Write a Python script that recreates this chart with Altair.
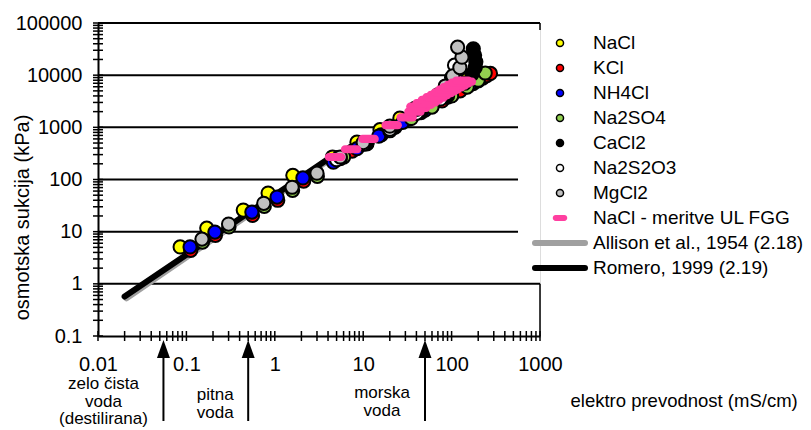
import altair as alt
import pandas as pd

FONT = "Liberation Sans"

# ---------------- data ----------------
salt_names = ["NaCl", "KCl", "NH4Cl", "Na2SO4", "CaCl2", "Na2S2O3", "MgCl2"]
salt_colors = ["#FFFF00", "#FF0000", "#0000FF", "#92D050", "#000000", "#FFFFFF", "#C0C0C0"]

nacl_x = [0.085, 0.17, 0.44, 0.84, 1.6, 4.5, 8.5, 15.5, 26, 38.5, 60, 95, 153]
nacl_y = [5.1, 11.7, 26, 55, 120, 270, 520, 900, 1500, 2300, 3400, 5200, 8500]

kcl_x = [0.112, 0.213, 0.56, 1.08, 2.12, 5, 7.5, 11, 16, 23, 33, 45, 60, 78, 100, 125, 150, 175, 200, 225, 250, 275]
kcl_y = [4.4, 8.5, 20.5, 40, 93, 243, 350, 505, 720, 1010, 1435, 1910, 2520, 3200, 4050, 5000, 6000, 6900, 7800, 8800, 9750, 10800]

nh4cl_x = [0.11, 0.21, 0.55, 1.06, 2.08, 4.6, 8.5, 15, 28, 50, 90, 160]
nh4cl_y = [5.1, 9.8, 23.7, 46, 107, 215, 390, 680, 1250, 2150, 3800, 6500]

na2so4_x = [0.152, 0.303, 0.76, 1.59, 3.03, 6, 11, 20, 35, 60, 100, 150, 200, 240]
na2so4_y = [6.3, 12.3, 30.5, 62, 115, 270, 480, 860, 1480, 2450, 4000, 5900, 8000, 11000]

cacl2_x = [5.5, 11, 22, 45, 90, 140, 170, 185, 188, 182, 176]
cacl2_y = [250, 500, 1000, 2000, 4000, 7000, 10500, 14000, 18000, 24000, 32000]

na2s2o3_x = [5, 10, 20, 40, 75, 100, 108]
na2s2o3_y = [240, 470, 920, 1850, 3500, 9000, 15500]

mgcl2_x = [0.15, 0.30, 0.75, 1.57, 3.0, 5.5, 10, 20, 40, 70, 85, 103, 124, 131, 117]
mgcl2_y = [7.2, 14, 35, 71, 132, 270, 510, 1050, 2200, 4200, 6200, 9700, 14000, 22100, 34500]

pink_name = "NaCl - meritve UL FGG"
pink_x = [4.8, 7.3, 11.5, 21, 31, 38, 44, 50, 56, 62, 69, 76, 84, 92, 100, 110, 120, 132, 145,
          40, 47, 54, 61, 68, 76, 85, 95, 106, 118, 132]
pink_y = [270, 380, 600, 1100, 1550, 2000, 2350, 2700, 3000, 3350, 3700, 4100, 4500, 4900, 5300, 5800, 6300, 6900, 7500,
          2500, 2900, 3350, 3800, 4200, 4700, 5300, 5900, 6500, 7200, 7900]

allison_name = "Allison et al., 1954 (2.18)"
allison_x = [0.021, 5.2]
allison_y = [0.53, 310]

romero_name = "Romero, 1999 (2.19)"
romero_x = [0.02, 5]
romero_y = [0.57, 320]

x_tick_labels = [0.01, 0.1, 1, 10, 100, 1000]
y_tick_labels = [0.1, 1, 10, 100, 1000, 10000, 100000]
minor_mult = [1, 2, 3, 4, 5, 6, 7, 8, 9]

grid_y = [1, 10, 100, 1000, 10000, 100000]
grid_x_end = [1000, 564, 564, 564, 564, 1000]

border_y0 = [0.1, 73500]
border_y1 = [1, 100000]

arrow_x = [0.055, 0.5, 50]
arrow_labels = ["zelo čista\nvoda\n(destilirana)", "pitna\nvoda", "morska\nvoda"]

x_title = "elektro prevodnost (mS/cm)"
y_title = "osmotska sukcija (kPa)"

# ---------------- tables ----------------
salt_xs = [nacl_x, kcl_x, nh4cl_x, na2so4_x, cacl2_x, na2s2o3_x, mgcl2_x]
salt_ys = [nacl_y, kcl_y, nh4cl_y, na2so4_y, cacl2_y, na2s2o3_y, mgcl2_y]
rows = []
for name, xs_, ys_ in zip(salt_names, salt_xs, salt_ys):
    for a, b in zip(xs_, ys_):
        rows.append({"salt": name, "x": a, "y": b})
pts = pd.DataFrame(rows)
pink_df = pd.DataFrame({"x": pink_x, "y": pink_y})
allison_df = pd.DataFrame({"x": allison_x, "y": allison_y})
romero_df = pd.DataFrame({"x": romero_x, "y": romero_y})
grid_df = pd.DataFrame({"y": grid_y, "x0": [x_tick_labels[0]] * len(grid_y), "x1": grid_x_end})
border_df = pd.DataFrame({"x": [x_tick_labels[-1]] * 2, "y0": border_y0, "y1": border_y1})
ytick_vals = [round(d * m, 6) for d in y_tick_labels[:-1] for m in minor_mult] + [y_tick_labels[-1]]
xtick_vals = [round(d * m, 6) for d in x_tick_labels[:-1] for m in minor_mult] + [x_tick_labels[-1]]
ytick_df = pd.DataFrame({"v": ytick_vals})
xtick_df = pd.DataFrame({"v": xtick_vals})
arrow_df = pd.DataFrame({"x": arrow_x, "t": arrow_labels})

legend_names = salt_names + [pink_name, allison_name, romero_name]
legend_df = pd.DataFrame({"name": legend_names})

# ---------------- scales / axes ----------------
W, H = 442, 313
xs = alt.Scale(type="log", domain=[0.01, 1000], nice=False)
ys = alt.Scale(type="log", domain=[0.1, 100000], nice=False)

x_axis = alt.Axis(values=x_tick_labels, format="~g", ticks=False, tickSize=0, grid=False,
                  labelPadding=18, labelFontSize=20, labelFont=FONT, labelColor="black",
                  labelOverlap=False, labelFlush=False,
                  domainColor="black", domainWidth=2,
                  title=x_title, titleX=472, titleY=64, titleAlign="left", titleBaseline="middle",
                  titleFont=FONT, titleFontSize=18.5, titleFontWeight="normal", titleColor="black")
y_axis = alt.Axis(values=y_tick_labels, format="~g", ticks=False, tickSize=0, grid=False,
                  labelPadding=16, labelFontSize=20, labelFont=FONT, labelColor="black",
                  labelOverlap=False, labelFlush=False,
                  domainColor="black", domainWidth=2,
                  title=y_title, titleX=-76, titleY=194, titleAngle=270, titleAlign="center",
                  titleBaseline="middle",
                  titleFont=FONT, titleFontSize=20, titleFontWeight="normal", titleColor="black")


def X(f):
    return alt.X(f, type="quantitative", scale=xs, axis=x_axis)


def Y(f):
    return alt.Y(f, type="quantitative", scale=ys, axis=y_axis)


fill_scale = alt.Scale(domain=salt_names, range=salt_colors)
dash_path = "M-0.6,-0.4L0.6,-0.4A0.4,0.4 0 0 1 0.6,0.4L-0.6,0.4A0.4,0.4 0 0 1 -0.6,-0.4Z"
tri_path = "M0,-1L0.72,1L-0.72,1Z"

# ---------------- main layers ----------------
grid = alt.Chart(grid_df).mark_rule(color="black", strokeWidth=2).encode(
    x=X("x0"), x2="x1:Q", y=Y("y"))

border = alt.Chart(border_df).mark_rule(color="black", strokeWidth=1.5).encode(
    x=X("x"), y=Y("y0"), y2="y1:Q")

yticks = alt.Chart(ytick_df).mark_rule(color="black", strokeWidth=1.5).encode(
    y=Y("v"), x=alt.value(-5), x2=alt.value(5))
xticks = alt.Chart(xtick_df).mark_rule(color="black", strokeWidth=1.5).encode(
    x=X("v"), y=alt.value(H - 5), y2=alt.value(H + 5))

allison = alt.Chart(allison_df).mark_line(color="#A0A0A0", strokeWidth=6, strokeCap="round").encode(
    x=X("x"), y=Y("y"))
romero = alt.Chart(romero_df).mark_line(color="black", strokeWidth=6, strokeCap="round").encode(
    x=X("x"), y=Y("y"))

points = alt.Chart(pts).mark_circle(size=175, stroke="black", strokeWidth=2, opacity=1).encode(
    x=X("x"), y=Y("y"),
    fill=alt.Fill("salt:N", scale=fill_scale, legend=None))

pink = alt.Chart(pink_df).mark_point(shape=dash_path, filled=True, color="#FF3FA0", size=420,
                                     opacity=1, strokeWidth=0).encode(x=X("x"), y=Y("y"))

arrow_rule = alt.Chart(arrow_df).mark_rule(color="black", strokeWidth=2).encode(
    x=X("x"), y=alt.value(330), y2=alt.value(398))
arrow_head = alt.Chart(arrow_df).mark_point(shape=tri_path, filled=True, color="black", size=324,
                                            opacity=1).encode(x=X("x"), y=alt.value(326))

text_dx = [-60, -33, -43]
text_top = [353, 364, 362]
texts = []
for i in range(len(arrow_x)):
    texts.append(
        alt.Chart(arrow_df.iloc[[i]]).mark_text(
            align="center", baseline="top", fontSize=17, lineHeight=17.5, lineBreak="\n",
            dx=text_dx[i], font=FONT, color="black").encode(
            x=X("x"), y=alt.value(text_top[i]), text="t:N"))

main = alt.layer(grid, border, yticks, xticks, allison, romero, points, pink,
                 arrow_rule, arrow_head, *texts)

# ---------------- legend ----------------
ly = alt.Y("name:N", scale=alt.Scale(type="point", domain=legend_names, range=[20, 245], padding=0),
           axis=None)
leg_salts = alt.Chart(legend_df[legend_df["name"].isin(salt_names)]).mark_circle(
    size=50, stroke="black", strokeWidth=1.5, opacity=1).encode(
    x=alt.value(462), y=ly, fill=alt.Fill("name:N", scale=fill_scale, legend=None))
leg_pink = alt.Chart(legend_df[legend_df["name"] == pink_name]).mark_point(
    shape=dash_path, filled=True, color="#FF3FA0", size=210, opacity=1, strokeWidth=0).encode(
    x=alt.value(462), y=ly)
leg_allison = alt.Chart(legend_df[legend_df["name"] == allison_name]).mark_rule(
    color="#A0A0A0", strokeWidth=6, strokeCap="round").encode(
    x=alt.value(437), x2=alt.value(487), y=ly)
leg_romero = alt.Chart(legend_df[legend_df["name"] == romero_name]).mark_rule(
    color="black", strokeWidth=6, strokeCap="round").encode(
    x=alt.value(437), x2=alt.value(487), y=ly)
leg_text = alt.Chart(legend_df).mark_text(align="left", baseline="middle", fontSize=19,
                                          font=FONT, color="black").encode(
    x=alt.value(495), y=ly, text="name:N")
legend = alt.layer(leg_allison, leg_romero, leg_salts, leg_pink, leg_text)

chart = alt.layer(main, legend).resolve_scale(y="independent").properties(
    width=W, height=H,
    padding={"left": 98, "top": 23, "right": 271, "bottom": 94},
    autosize=alt.AutoSizeParams(type="none"),
    background="white",
).configure_view(stroke=None).configure(font=FONT)

chart.save("out.html", embed_options={"renderer": "svg", "actions": False})
